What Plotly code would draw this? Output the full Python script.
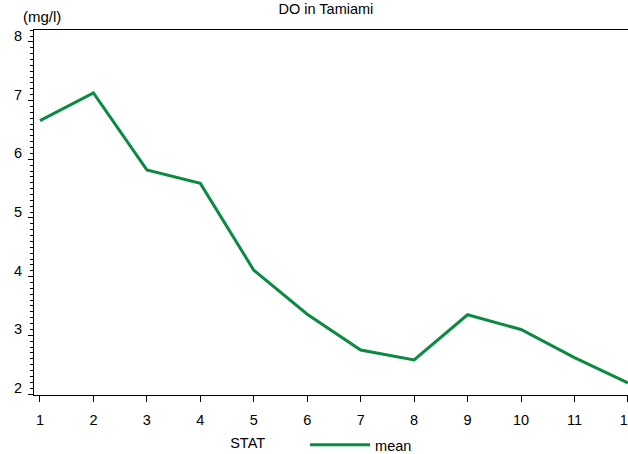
import plotly.graph_objects as go

months = [1, 2, 3, 4, 5, 6, 7, 8, 9, 10, 11, 12]
mean_do = [6.66, 7.13, 5.82, 5.59, 4.11, 3.36, 2.75, 2.58, 3.35, 3.10, 2.62, 2.19]
y_ticks = [2, 3, 4, 5, 6, 7, 8]

FONT = "Liberation Sans, Arial, sans-serif"
GREEN = "#0B8A42"
FS = 14.5

fig = go.Figure()
fig.add_trace(go.Scatter(
    x=months, y=mean_do, mode="lines", name="mean",
    line=dict(color=GREEN, width=3),
))

fig.update_layout(
    width=628, height=454,
    margin=dict(l=34, r=0, t=30, b=59, autoexpand=False),
    paper_bgcolor="white", plot_bgcolor="white",
    font=dict(family=FONT, size=FS, color="black"),
    title=dict(text="DO in Tamiami", x=0.519, xanchor="center", y=0.981, yanchor="middle",
               font=dict(size=FS, family=FONT, color="black")),
    showlegend=True,
    legend=dict(
        orientation="h", x=0.486, xanchor="center", y=-0.093, yanchor="top",
        title=dict(text="STAT        ", side="left", font=dict(size=FS)),
        font=dict(size=FS), itemwidth=60,
        bgcolor="rgba(0,0,0,0)",
    ),
    annotations=[dict(text="(mg/l)", xref="paper", yref="paper", x=-0.022, y=1.037,
                      xanchor="left", yanchor="middle", showarrow=False,
                      font=dict(size=15, family=FONT, color="black"))],
)

fig.update_xaxes(
    range=[0.888, 12.002], tickmode="array", tickvals=months, ticktext=[str(m) for m in months],
    showgrid=False, zeroline=False, automargin=False,
    showline=True, linecolor="black", linewidth=1, mirror=True,
    ticks="outside", ticklen=6, tickcolor="black", tickwidth=1,
    ticklabelstandoff=6, ticklabeloverflow="allow",
    tickfont=dict(size=FS),
)
fig.update_yaxes(
    range=[1.983, 8.203], tickmode="array", tickvals=y_ticks,
    showgrid=False, zeroline=False, automargin=False,
    showline=True, linecolor="black", linewidth=1,
    ticks="outside", ticklen=5, tickcolor="black", tickwidth=1,
    ticklabelstandoff=3, ticklabelshift=-6, ticklabeloverflow="allow",
    minor=dict(dtick=0.1, ticks="outside", ticklen=3, tickcolor="black", tickwidth=1, showgrid=False),
    tickfont=dict(size=FS),
)

fig.write_html("out.html", config={"displayModeBar": False},
               post_script="document.body.style.margin='0';")
